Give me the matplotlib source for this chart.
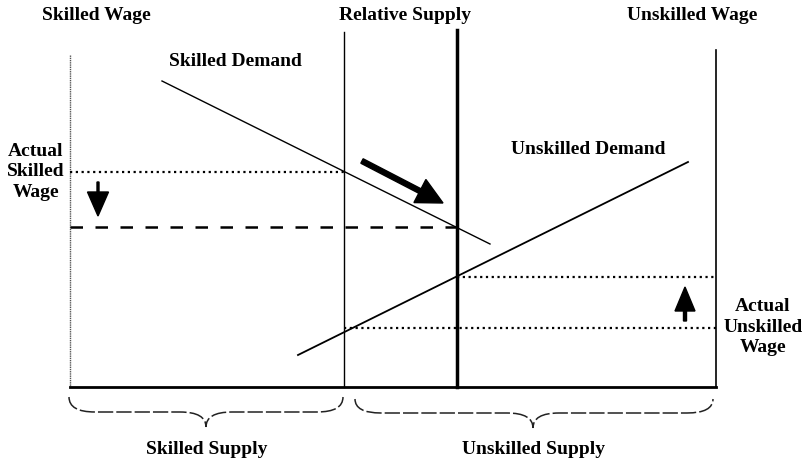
import matplotlib.pyplot as plt
from matplotlib.path import Path
from matplotlib.patches import PathPatch

# Diagram values (drawing units, y grows downward like the page)
skilled_axis_x = 70
unskilled_axis_x = 716
axis_floor = 387
old_supply_x = 344
new_supply_x = 457

skilled_demand_x = [162, 490]
skilled_demand_y = [81, 244]
unskilled_demand_x = [298, 688]
unskilled_demand_y = [355, 162]

actual_skilled_wage = 172
new_skilled_wage = 227
actual_unskilled_wage = 328
new_unskilled_wage = 277

plt.rcParams['font.family'] = ['Liberation Serif', 'DejaVu Serif']
plt.rcParams['font.weight'] = 'bold'

fig = plt.figure(figsize=(8.06, 4.66), dpi=100)
ax = fig.add_axes([0, 0, 1, 1])
ax.set_xlim(0, 806)
ax.set_ylim(466, 0)
ax.axis('off')

# axes of the box
ax.plot([skilled_axis_x, skilled_axis_x], [55, axis_floor], color='#555555', lw=1, ls=(0, (1, 0.6)))
ax.plot([skilled_axis_x, unskilled_axis_x], [axis_floor, axis_floor], color='black', lw=2)
ax.plot([unskilled_axis_x, unskilled_axis_x], [50, axis_floor], color='black', lw=1.2)

# supply lines
ax.plot([old_supply_x, old_supply_x], [32, axis_floor], color='black', lw=1)
ax.plot([new_supply_x, new_supply_x], [30, axis_floor], color='black', lw=2.5)

# demand curves
ax.plot(skilled_demand_x, skilled_demand_y, color='black', lw=1)
ax.plot(unskilled_demand_x, unskilled_demand_y, color='black', lw=1.3)

# wage levels
dots = (0, (1, 1.6))
ax.plot([skilled_axis_x, old_supply_x], [actual_skilled_wage] * 2, color='black', lw=1.6, ls=dots)
ax.plot([skilled_axis_x, new_supply_x], [new_skilled_wage] * 2, color='black', lw=1.8, ls=(0, (5, 5)))
ax.plot([old_supply_x, unskilled_axis_x], [actual_unskilled_wage] * 2, color='black', lw=1.6, ls=dots)
ax.plot([new_supply_x, unskilled_axis_x], [new_unskilled_wage] * 2, color='black', lw=1.6, ls=dots)

# arrows
ax.arrow(362, 161, 81, 42, width=5, head_width=26, head_length=26,
         length_includes_head=True, fc='black', ec='black')
ax.arrow(98, 182, 0, 34, width=2, head_width=21, head_length=24,
         length_includes_head=True, fc='black', ec='black')
ax.arrow(685, 321, 0, -34, width=3, head_width=20, head_length=24,
         length_includes_head=True, fc='black', ec='black')


def brace(x0, x1, xm, ytop, yh, ytip, r=26):
    verts = [(x0, ytop), (x0, yh), (x0 + r, yh),
             (xm - r, yh), (xm, yh), (xm, ytip),
             (xm, yh), (xm + r, yh),
             (x1 - r, yh), (x1, yh), (x1, ytop)]
    codes = [Path.MOVETO, Path.CURVE3, Path.CURVE3,
             Path.LINETO, Path.CURVE3, Path.CURVE3,
             Path.CURVE3, Path.CURVE3,
             Path.LINETO, Path.CURVE3, Path.CURVE3]
    ax.add_patch(PathPatch(Path(verts, codes), fill=False, lw=1.1, ec='#222222', ls=(0, (10, 2))))


brace(69, 343, 206, 397, 412, 427)
brace(355, 713, 533, 399, 413, 428)

# labels
fs = 14
ax.text(96, 15, 'Skilled Wage', ha='center', va='center', fontsize=fs)
ax.text(405, 15, 'Relative Supply', ha='center', va='center', fontsize=fs)
ax.text(692, 15, 'Unskilled Wage', ha='center', va='center', fontsize=fs)
ax.text(235, 62, 'Skilled Demand', ha='center', va='center', fontsize=fs)
ax.text(588, 150, 'Unskilled Demand', ha='center', va='center', fontsize=fs)
ax.text(36, 172, 'Actual\nSkilled\nWage', ha='center', va='center', fontsize=fs, linespacing=1.25)
ax.text(763, 327, 'Actual\nUnskilled\nWage', ha='center', va='center', fontsize=fs, linespacing=1.25)
ax.text(207, 450, 'Skilled Supply', ha='center', va='center', fontsize=fs)
ax.text(533, 450, 'Unskilled Supply', ha='center', va='center', fontsize=fs)

fig.savefig('out.png', dpi=100)
